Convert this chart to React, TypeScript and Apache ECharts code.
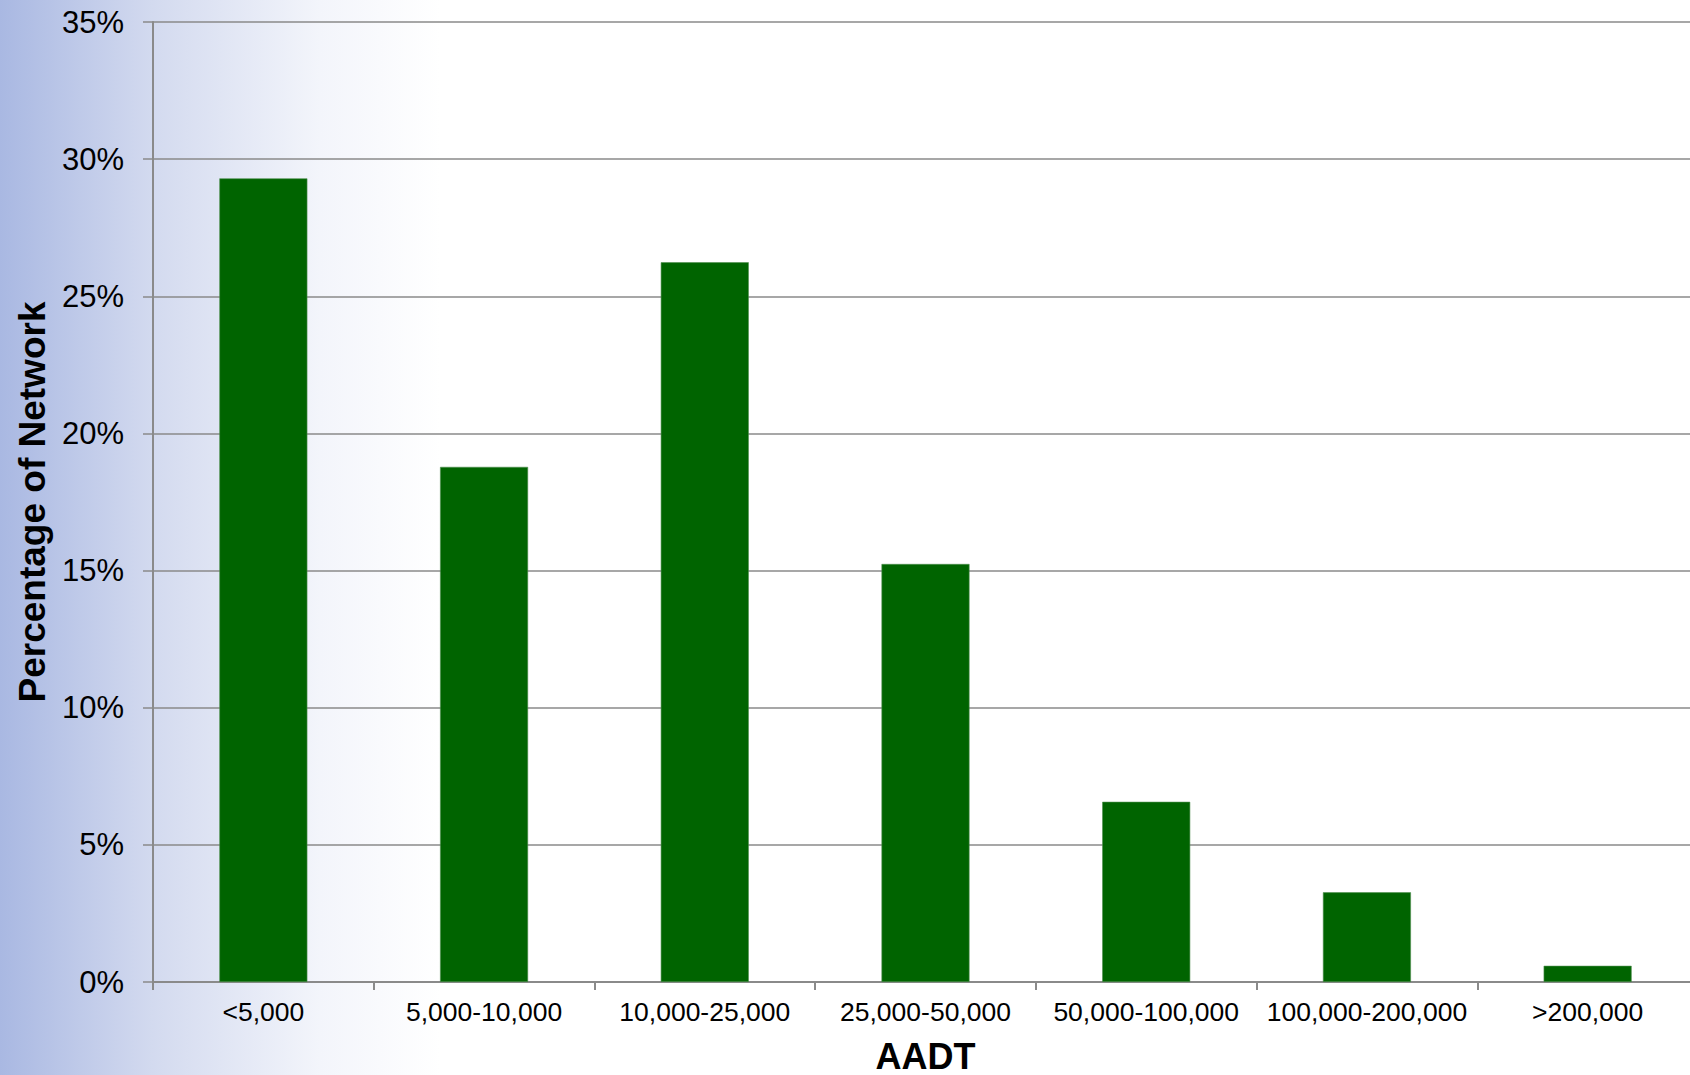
import React, { useEffect, useRef } from "react";
import * as echarts from "echarts";

const categories = [
  "<5,000",
  "5,000-10,000",
  "10,000-25,000",
  "25,000-50,000",
  "50,000-100,000",
  "100,000-200,000",
  ">200,000",
];
const percentOfNetwork = [29.3, 18.78, 26.24, 15.24, 6.57, 3.27, 0.59];
const yTickMin = 0;
const yTickMax = 35;
const yTickStep = 5;

const FONT = '"Liberation Sans", Arial, Helvetica, sans-serif';

export default function App() {
  const ref = useRef<HTMLDivElement>(null);
  useEffect(() => {
    if (!ref.current) return;
    const chart = echarts.init(ref.current, null, { renderer: "svg" });
    chart.setOption({
      animation: false,
      backgroundColor: "transparent",
      grid: {
        left: 153,
        top: 22,
        width: 1545,
        height: 960,
        containLabel: false,
        outerBoundsMode: "none",
      },
      xAxis: {
        type: "category",
        data: categories,
        name: "AADT",
        nameLocation: "middle",
        nameGap: 56,
        nameTextStyle: {
          fontFamily: FONT,
          fontSize: 36,
          lineHeight: 36,
          fontWeight: "bold",
          color: "#000",
        },
        axisLine: { show: true, lineStyle: { color: "#8a8a8a", width: 2 } },
        axisTick: { show: true, length: 8, lineStyle: { color: "#8a8a8a", width: 2 } },
        axisLabel: { fontFamily: FONT, fontSize: 26.5, color: "#000", margin: 16, interval: 0 },
        splitLine: { show: false },
      },
      yAxis: {
        type: "value",
        min: yTickMin,
        max: yTickMax,
        interval: yTickStep,
        name: "Percentage of Network",
        nameLocation: "middle",
        nameGap: 102,
        nameRotate: 90,
        nameTextStyle: {
          fontFamily: FONT,
          fontSize: 37,
          lineHeight: 37,
          fontWeight: "bold",
          color: "#000",
        },
        axisLine: { show: true, lineStyle: { color: "#8a8a8a", width: 2 } },
        axisTick: { show: true, length: 10, lineStyle: { color: "#8a8a8a", width: 1.5 } },
        axisLabel: {
          fontFamily: FONT,
          fontSize: 31,
          color: "#000",
          margin: 29,
          formatter: "{value}%",
        },
        splitLine: { show: true, lineStyle: { color: "#8a8a8a", width: 1.5 } },
      },
      series: [
        {
          type: "bar",
          data: percentOfNetwork,
          barWidth: 88,
          itemStyle: { color: "#006400", borderColor: "#4f8f4f", borderWidth: 0.6 },
        },
      ],
    });
    return () => chart.dispose();
  }, []);
  return (
    <div
      style={{
        position: "absolute",
        left: 0,
        top: 0,
        width: 1690,
        height: 1075,
        overflow: "hidden",
        background:
          "linear-gradient(to right, #a9b8e2 0px, #d3daef 153px, #f3f5fb 320px, #ffffff 440px, #ffffff 100%)",
      }}
    >
      <div ref={ref} style={{ width: 1690, height: 1075 }} />
    </div>
  );
}
